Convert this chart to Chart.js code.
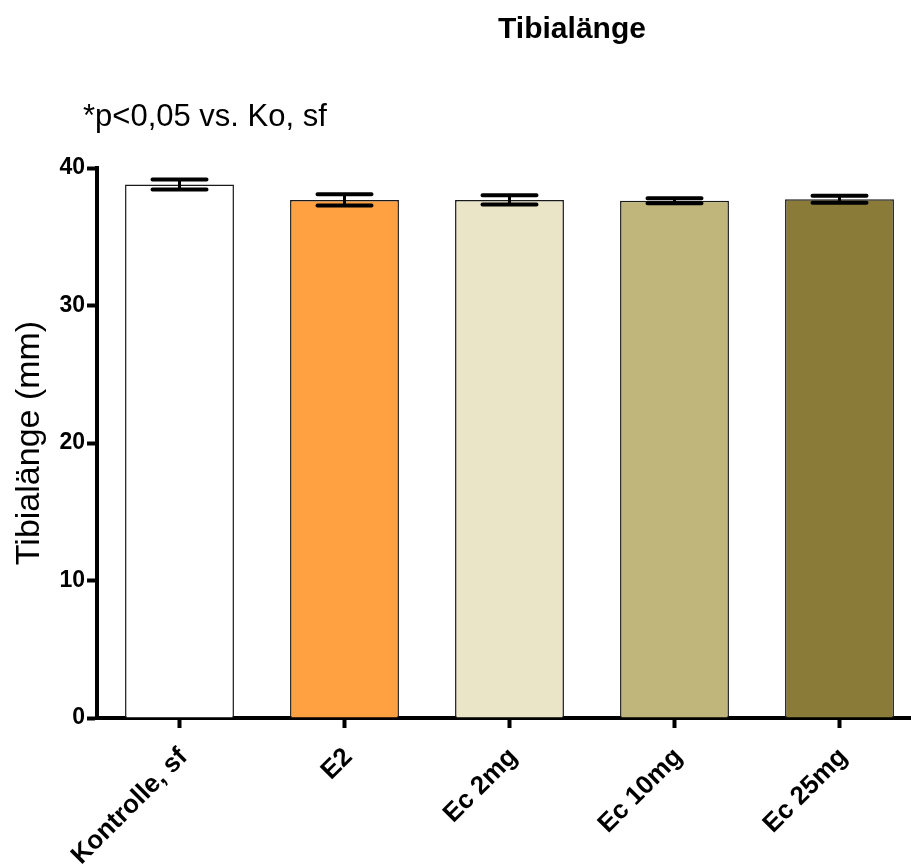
<!DOCTYPE html>
<html>
<head>
<meta charset="utf-8">
<script src="https://cdn.jsdelivr.net/npm/chart.js@4.4.1/dist/chart.umd.min.js"></script>
<style>
  html, body { margin: 0; padding: 0; overflow: hidden; background: #fff; }
</style>
</head>
<body>
<canvas id="myChart" width="922" height="868"></canvas>
<script>
const groups = ['Kontrolle, sf', 'E2', 'Ec 2mg', 'Ec 10mg', 'Ec 25mg'];
const means = [38.8, 37.68, 37.68, 37.62, 37.73];
const errors = [0.36, 0.41, 0.33, 0.18, 0.25];
const barColors = ['#ffffff', '#ffa140', '#ebe5c8', '#c0b67c', '#8b7b38'];
const yMin = 0;
const yMax = 40;
const yStep = 10;

Chart.defaults.font.family = '"Liberation Sans", Arial, sans-serif';
Chart.defaults.color = '#000';

// SEM whiskers on top of each bar
const errorBars = {
  id: 'errorBars',
  afterDatasetsDraw(chart) {
    const { ctx } = chart;
    const y = chart.scales.y;
    const meta = chart.getDatasetMeta(0);
    ctx.save();
    ctx.strokeStyle = '#000';
    ctx.lineCap = 'round';
    meta.data.forEach((bar, i) => {
      const hi = y.getPixelForValue(means[i] + errors[i]);
      const lo = y.getPixelForValue(means[i] - errors[i]);
      ctx.lineWidth = 3;
      ctx.beginPath();
      ctx.moveTo(bar.x, hi);
      ctx.lineTo(bar.x, lo);
      ctx.stroke();
      ctx.lineWidth = 4;
      ctx.beginPath();
      ctx.moveTo(bar.x - 27, hi);
      ctx.lineTo(bar.x + 27, hi);
      ctx.moveTo(bar.x - 27, lo);
      ctx.lineTo(bar.x + 27, lo);
      ctx.stroke();
    });
    ctx.restore();
  }
};

// chart title and the note
const headerText = {
  id: 'headerText',
  afterDraw(chart) {
    const { ctx } = chart;
    ctx.save();
    ctx.fillStyle = '#000';
    ctx.textBaseline = 'middle';
    ctx.textAlign = 'center';
    ctx.font = 'bold 30px "Liberation Sans", Arial, sans-serif';
    ctx.fillText('Tibialänge', 572, 30);
    ctx.textAlign = 'left';
    ctx.font = '31px "Liberation Sans", Arial, sans-serif';
    ctx.fillText('*p<0,05 vs. Ko, sf', 83, 117);
    ctx.restore();
  }
};

const data = {
  labels: groups,
  datasets: [
    {
      data: means,
      backgroundColor: barColors,
      borderColor: '#1a1a1a',
      borderWidth: 1.5,
      barPercentage: 0.66,
      categoryPercentage: 1,
    },
  ],
};

const config = {
  type: 'bar',
  data: data,
  options: {
    responsive: false,
    animation: false,
    layout: { padding: { top: 168, left: 0, right: 0, bottom: 0 } },
    plugins: {
      legend: { display: false },
      tooltip: { enabled: false },
    },
    scales: {
      x: {
        offset: true,
        grid: {
          display: true,
          drawOnChartArea: false,
          offset: false,
          tickLength: 10,
          tickWidth: 4,
          tickColor: '#000',
        },
        border: { color: '#000', width: 4 },
        ticks: {
          color: '#000',
          font: { size: 26, weight: 'bold' },
          minRotation: 45,
          maxRotation: 45,
          labelOffset: 4,
          padding: 14,
        },
        afterFit: (s) => { s.height = 150; },
      },
      y: {
        min: yMin,
        max: yMax,
        grid: {
          display: true,
          drawOnChartArea: false,
          tickLength: 10,
          tickWidth: 4,
          tickColor: '#000',
        },
        border: { color: '#000', width: 4 },
        ticks: {
          stepSize: yStep,
          color: '#000',
          font: { size: 23, weight: 'bold' },
          padding: 2,
        },
        title: {
          display: true,
          text: 'Tibialänge (mm)',
          color: '#000',
          font: { size: 34, weight: 'normal' },
          padding: { top: 9, bottom: 0 },
        },
        afterFit: (s) => { s.width = 97; },
      },
    },
  },
  plugins: [errorBars, headerText],
};

new Chart(document.getElementById('myChart'), config);
</script>
</body>
</html>
